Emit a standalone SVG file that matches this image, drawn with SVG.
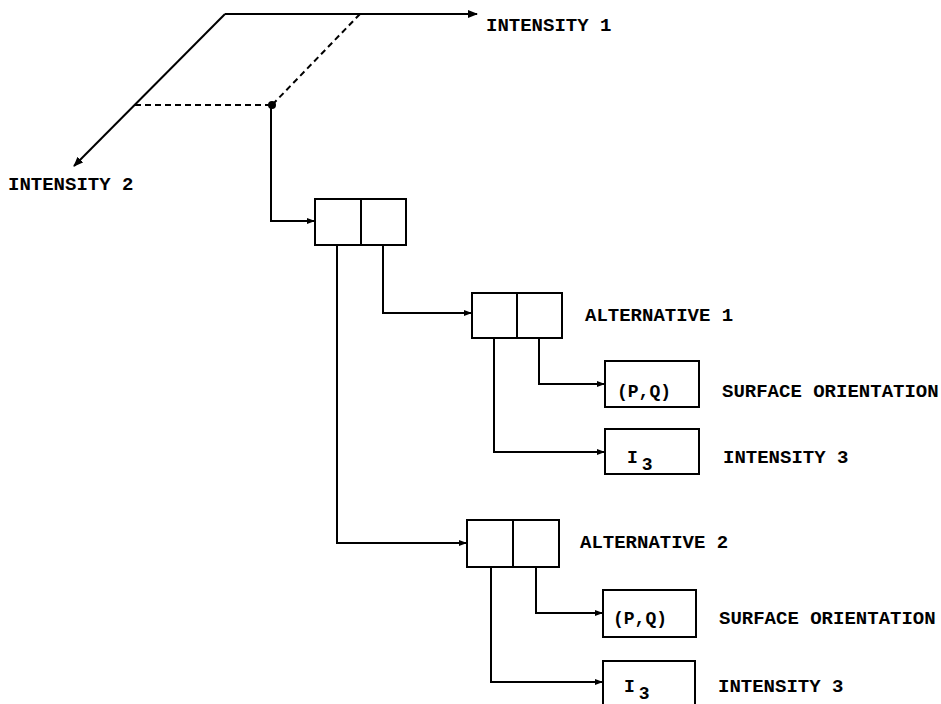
<svg xmlns="http://www.w3.org/2000/svg" width="941" height="704" viewBox="0 0 941 704">
<style>
.box{fill:none;stroke:#000;stroke-width:2}
.ln{fill:none;stroke:#000;stroke-width:2}
.dash{fill:none;stroke:#000;stroke-width:2;stroke-dasharray:6 4}
.t{font-family:"Liberation Mono","DejaVu Sans Mono",monospace;font-size:19px;font-weight:bold;fill:#000}
.tb{font-family:"Liberation Mono","DejaVu Sans Mono",monospace;font-size:18px;font-weight:bold;fill:#000}
</style>
<defs>
<marker id="ah" markerWidth="10" markerHeight="8" refX="9" refY="4" orient="auto" markerUnits="userSpaceOnUse">
<path d="M0,0 L10,4 L0,8 Z" fill="#000"/>
</marker>
<marker id="ahs" markerWidth="8" markerHeight="6" refX="8" refY="3" orient="auto" markerUnits="userSpaceOnUse">
<path d="M0,0 L8,3 L0,6 Z" fill="#000"/>
</marker>
</defs>
<rect width="941" height="704" fill="#fff"/>
<g id="axes">
<path class="ln" d="M225,14 L477,14" marker-end="url(#ah)"/>
<path class="ln" d="M225,14 L74,166" marker-end="url(#ah)"/>
<path class="dash" d="M360,14 L272,105"/>
<path class="dash" d="M135,105 L272,105"/>
<circle cx="272" cy="105" r="4" fill="#000"/>
<text class="t" x="486" y="31">INTENSITY 1</text>
<text class="t" x="8" y="190">INTENSITY 2</text>
</g>
<g id="connectors">
<path class="ln" d="M271,105 L271,221 L315,221" marker-end="url(#ahs)"/>
<path class="ln" d="M383,245 L383,313 L472,313" marker-end="url(#ahs)"/>
<path class="ln" d="M337,245 L337,543 L467,543" marker-end="url(#ahs)"/>
<path class="ln" d="M539,338 L539,384 L605,384" marker-end="url(#ahs)"/>
<path class="ln" d="M494,338 L494,452 L605,452" marker-end="url(#ahs)"/>
<path class="ln" d="M536,567 L536,613 L603,613" marker-end="url(#ahs)"/>
<path class="ln" d="M491,567 L491,682 L603,682" marker-end="url(#ahs)"/>
</g>
<g id="root">
<rect class="box" x="315" y="199" width="91" height="46"/>
<line class="ln" x1="361" y1="199" x2="361" y2="245"/>
</g>
<g id="alt1">
<rect class="box" x="472" y="293" width="90" height="45"/>
<line class="ln" x1="517" y1="293" x2="517" y2="338"/>
<text class="t" x="585" y="321">ALTERNATIVE 1</text>
</g>
<g id="pq1">
<rect class="box" x="605" y="361" width="94" height="46"/>
<text class="tb" x="617" y="397">(P,Q)</text>
<text class="t" x="722" y="397">SURFACE ORIENTATION</text>
</g>
<g id="i31">
<rect class="box" x="605" y="429" width="94" height="45"/>
<text class="tb" x="627" y="463">I<tspan dx="4" dy="7">3</tspan></text>
<text class="t" x="723" y="463">INTENSITY 3</text>
</g>
<g id="alt2">
<rect class="box" x="467" y="520" width="92" height="47"/>
<line class="ln" x1="513" y1="520" x2="513" y2="567"/>
<text class="t" x="580" y="548">ALTERNATIVE 2</text>
</g>
<g id="pq2">
<rect class="box" x="603" y="590" width="93" height="47"/>
<text class="tb" x="613" y="624">(P,Q)</text>
<text class="t" x="719" y="624">SURFACE ORIENTATION</text>
</g>
<g id="i32">
<rect class="box" x="603" y="661" width="92" height="47"/>
<text class="tb" x="624" y="692">I<tspan dx="4" dy="7">3</tspan></text>
<text class="t" x="718" y="692">INTENSITY 3</text>
</g>
</svg>
